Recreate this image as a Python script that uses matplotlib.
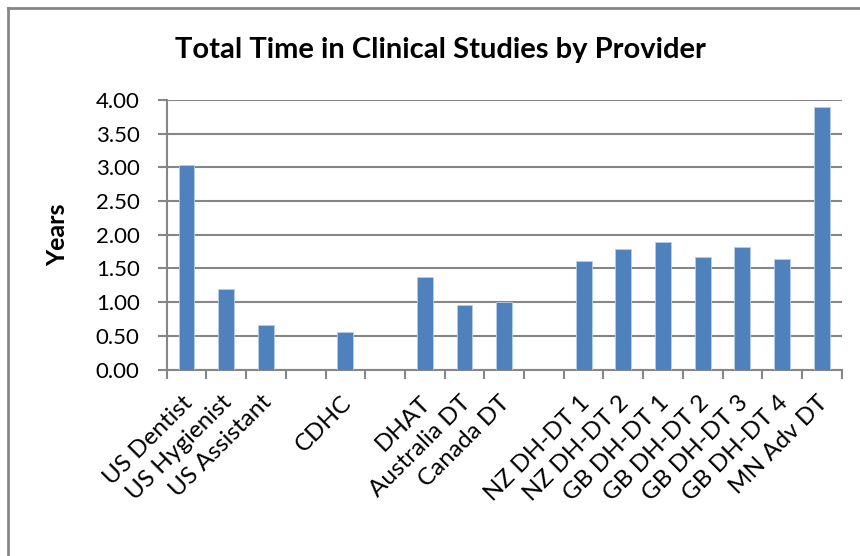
import matplotlib
matplotlib.use("Agg")
import matplotlib.pyplot as plt
import matplotlib.transforms as mtransforms
import numpy as np

# Empty strings are blank slots in the category axis
providers = ["US Dentist", "US Hygienist", "US Assistant", "", "CDHC", "",
             "DHAT", "Australia DT", "Canada DT", "",
             "NZ DH-DT 1", "NZ DH-DT 2", "GB DH-DT 1", "GB DH-DT 2",
             "GB DH-DT 3", "GB DH-DT 4", "MN Adv DT"]
years = [3.03, 1.19, 0.66, np.nan, 0.55, np.nan,
         1.37, 0.95, 1.00, np.nan,
         1.61, 1.79, 1.89, 1.67, 1.82, 1.64, 3.90]
yticks = [0.0, 0.5, 1.0, 1.5, 2.0, 2.5, 3.0, 3.5, 4.0]

plt.rcParams["font.family"] = ["Lato", "DejaVu Sans"]
grey = "#868686"

fig = plt.figure(figsize=(8.6, 5.56), dpi=100)
ax = fig.add_axes([166.7 / 860, 1 - 369.5 / 556, 675 / 860, 269.5 / 556])

x = np.arange(len(providers))
ax.bar(x, years, width=0.4, color="#4F81BD", edgecolor="#B9CDE5",
       linewidth=0.6, zorder=3)

ax.set_xlim(-0.5, len(providers) - 0.5)
ax.set_ylim(0, 4)
ax.set_yticks(yticks)
ax.set_yticklabels([f"{v:.2f}" for v in yticks], fontsize=16)
ax.yaxis.grid(True, color=grey, linewidth=1.5, zorder=0)

ax.set_xticks(x)
ax.set_xticklabels(providers, rotation=45, ha="right",
                   rotation_mode="anchor", fontsize=17.5)
ax.tick_params(axis="x", which="major", length=0, pad=16)
shift = mtransforms.ScaledTranslation(-5 / 100, 0, fig.dpi_scale_trans)
for lab in ax.get_xticklabels():
    lab.set_transform(lab.get_transform() + shift)
ax.set_xticks(np.arange(len(providers) + 1) - 0.5, minor=True)
ax.tick_params(axis="x", which="minor", length=6.5, width=1.5, color=grey)
ax.tick_params(axis="y", length=6.5, width=1.5, color=grey, pad=13)

for side in ["top", "right"]:
    ax.spines[side].set_visible(False)
for side in ["left", "bottom"]:
    ax.spines[side].set_color(grey)
    ax.spines[side].set_linewidth(1.5)

ax.set_ylabel("Years", fontsize=18, fontweight="bold")
ax.yaxis.set_label_coords(-0.145, 0.5)
fig.text(440 / 860, 1 - 50 / 556, "Total Time in Clinical Studies by Provider",
         ha="center", va="center", fontsize=21, fontweight="bold")

# chart frame (left and top edges visible)
fig.add_artist(plt.Line2D([8 / 860, 8 / 860], [0, 1 - 8 / 556],
                          color=grey, linewidth=2, transform=fig.transFigure))
fig.add_artist(plt.Line2D([8 / 860, 1], [1 - 8 / 556, 1 - 8 / 556],
                          color=grey, linewidth=2, transform=fig.transFigure))

fig.savefig("out.png", dpi=100)
